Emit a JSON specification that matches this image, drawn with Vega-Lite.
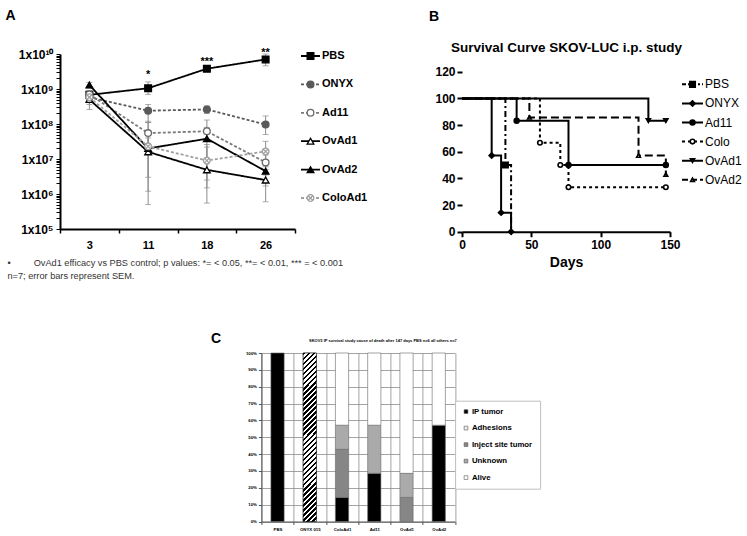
{
  "$schema": "https://vega.github.io/schema/vega-lite/v6.json",
  "background": "white",
  "padding": {"left": 5, "top": 8, "right": 2, "bottom": 1},
  "config": {"view": {"stroke": null}, "font": "Liberation Sans"},
  "datasets": {
    "tumor": [
      {"day": 3, "series": "PBS", "v": 6.8e8, "lo": 5.5e8, "hi": 8.5e8},
      {"day": 11, "series": "PBS", "v": 1.05e9, "lo": 7e8, "hi": 1.6e9},
      {"day": 18, "series": "PBS", "v": 3.8e9, "lo": 3.2e9, "hi": 4.5e9},
      {"day": 26, "series": "PBS", "v": 7.0e9, "lo": 4.6e9, "hi": 1.0e10},
      {"day": 3, "series": "ONYX", "v": 5.8e8, "lo": 4.2e8, "hi": 8e8},
      {"day": 11, "series": "ONYX", "v": 2.4e8, "lo": 1.1e8, "hi": 3.6e8},
      {"day": 18, "series": "ONYX", "v": 2.6e8, "lo": 2.0e8, "hi": 3.3e8},
      {"day": 26, "series": "ONYX", "v": 9.6e7, "lo": 5e7, "hi": 1.7e8},
      {"day": 3, "series": "Ad11", "v": 7.0e8, "lo": 5.5e8, "hi": 9e8},
      {"day": 11, "series": "Ad11", "v": 5.5e7, "lo": 2.7e7, "hi": 1.2e8},
      {"day": 18, "series": "Ad11", "v": 6.2e7, "lo": 3.2e7, "hi": 1.3e8},
      {"day": 26, "series": "Ad11", "v": 8.0e6, "lo": 3.5e6, "hi": 1.6e7},
      {"day": 3, "series": "OvAd1", "v": 5.0e8, "lo": 3.6e8, "hi": 6.8e8},
      {"day": 11, "series": "OvAd1", "v": 1.6e7, "lo": 5e5, "hi": 4e7},
      {"day": 18, "series": "OvAd1", "v": 4.9e6, "lo": 5.5e5, "hi": 2.6e7},
      {"day": 26, "series": "OvAd1", "v": 2.5e6, "lo": 6e5, "hi": 6e6},
      {"day": 3, "series": "OvAd2", "v": 1.3e9, "lo": 1.05e9, "hi": 1.55e9},
      {"day": 11, "series": "OvAd2", "v": 2.0e7, "lo": 1.2e6, "hi": 6e7},
      {"day": 18, "series": "OvAd2", "v": 3.8e7, "lo": 1.5e6, "hi": 8e7},
      {"day": 26, "series": "OvAd2", "v": 4.5e6, "lo": 1.7e6, "hi": 1.3e7},
      {"day": 3, "series": "ColoAd1", "v": 5.8e8, "lo": 2.6e8, "hi": 8e8},
      {"day": 11, "series": "ColoAd1", "v": 2.3e7, "lo": 3e6, "hi": 1.1e8},
      {"day": 18, "series": "ColoAd1", "v": 9e6, "lo": 2.5e6, "hi": 2.2e7},
      {"day": 26, "series": "ColoAd1", "v": 1.65e7, "lo": 5e6, "hi": 3.2e7}
    ],
    "stars": [
      {"day": 11, "y": 2.5e9, "label": "*"},
      {"day": 18, "y": 5.8e9, "label": "***"},
      {"day": 26, "y": 1.08e10, "label": "**"}
    ],
    "seriesA": [
      {"series": "PBS"}, {"series": "ONYX"}, {"series": "Ad11"},
      {"series": "OvAd1"}, {"series": "OvAd2"}, {"series": "ColoAd1"}
    ],
    "surv": [
      {"series": "PBS", "day": 0, "pct": 100}, {"series": "PBS", "day": 31.3, "pct": 50}, {"series": "PBS", "day": 35.4, "pct": 0},
      {"series": "ONYX", "day": 0, "pct": 100}, {"series": "ONYX", "day": 21.4, "pct": 57.1}, {"series": "ONYX", "day": 28.2, "pct": 14.3}, {"series": "ONYX", "day": 35.4, "pct": 0},
      {"series": "Ad11", "day": 0, "pct": 100}, {"series": "Ad11", "day": 39.4, "pct": 83.3}, {"series": "Ad11", "day": 76.8, "pct": 50}, {"series": "Ad11", "day": 147, "pct": 50},
      {"series": "Colo", "day": 0, "pct": 100}, {"series": "Colo", "day": 56.2, "pct": 66.7}, {"series": "Colo", "day": 70.9, "pct": 50}, {"series": "Colo", "day": 76.8, "pct": 33.3}, {"series": "Colo", "day": 147, "pct": 33.3},
      {"series": "OvAd1", "day": 0, "pct": 100}, {"series": "OvAd1", "day": 134.4, "pct": 83.3}, {"series": "OvAd1", "day": 147, "pct": 83.3},
      {"series": "OvAd2", "day": 0, "pct": 100}, {"series": "OvAd2", "day": 48.6, "pct": 85.7}, {"series": "OvAd2", "day": 127.3, "pct": 57.1}, {"series": "OvAd2", "day": 147, "pct": 42.9}
    ],
    "survpts": [
      {"series": "PBS", "day": 31.3, "pct": 50},
      {"series": "ONYX", "day": 21.4, "pct": 57.1}, {"series": "ONYX", "day": 28.2, "pct": 14.3}, {"series": "ONYX", "day": 35.4, "pct": 0},
      {"series": "Ad11", "day": 39.4, "pct": 83.3}, {"series": "Ad11", "day": 76.8, "pct": 50}, {"series": "Ad11", "day": 147, "pct": 50},
      {"series": "Colo", "day": 56.2, "pct": 66.7}, {"series": "Colo", "day": 70.9, "pct": 50}, {"series": "Colo", "day": 76.8, "pct": 33.3}, {"series": "Colo", "day": 147, "pct": 33.3},
      {"series": "OvAd1", "day": 134.4, "pct": 83.3}, {"series": "OvAd1", "day": 147, "pct": 83.3},
      {"series": "OvAd2", "day": 48.6, "pct": 85.7}, {"series": "OvAd2", "day": 127.3, "pct": 57.1}, {"series": "OvAd2", "day": 147, "pct": 42.9}
    ],
    "seriesB": [
      {"series": "PBS"}, {"series": "ONYX"}, {"series": "Ad11"},
      {"series": "Colo"}, {"series": "OvAd1"}, {"series": "OvAd2"}
    ],
    "cod": [
      {"group": "PBS", "cause": "IP tumor", "k": 1, "pct": 1.0},
      {"group": "ONYX 015", "cause": "Adhesions", "k": 2, "pct": 1.0},
      {"group": "ColoAd1", "cause": "IP tumor", "k": 1, "pct": 0.142857},
      {"group": "ColoAd1", "cause": "Inject site tumor", "k": 3, "pct": 0.285714},
      {"group": "ColoAd1", "cause": "Unknown", "k": 4, "pct": 0.142857},
      {"group": "ColoAd1", "cause": "Alive", "k": 5, "pct": 0.428571},
      {"group": "Ad11", "cause": "IP tumor", "k": 1, "pct": 0.285714},
      {"group": "Ad11", "cause": "Unknown", "k": 4, "pct": 0.285714},
      {"group": "Ad11", "cause": "Alive", "k": 5, "pct": 0.428571},
      {"group": "OvAd1", "cause": "Inject site tumor", "k": 3, "pct": 0.142857},
      {"group": "OvAd1", "cause": "Unknown", "k": 4, "pct": 0.142857},
      {"group": "OvAd1", "cause": "Alive", "k": 5, "pct": 0.714285},
      {"group": "OvAd2", "cause": "IP tumor", "k": 1, "pct": 0.571428},
      {"group": "OvAd2", "cause": "Alive", "k": 5, "pct": 0.428571}
    ]
  },
  "center": true,
  "spacing": 50,
  "resolve": {"scale": {"x": "independent", "y": "independent", "color": "independent", "fill": "independent", "stroke": "independent", "shape": "independent", "strokeDash": "independent", "size": "independent"}},
  "vconcat": [
    {
      "spacing": 60,
      "resolve": {"scale": {"x": "independent", "y": "independent", "color": "independent", "fill": "independent", "stroke": "independent", "shape": "independent", "strokeDash": "independent", "size": "independent"}},
      "hconcat": [
        {
          "bounds": "flush",
          "spacing": 6,
          "resolve": {"scale": {"x": "independent", "y": "independent", "color": "independent", "fill": "independent", "stroke": "independent", "shape": "independent", "strokeDash": "independent", "size": "independent"}},
          "hconcat": [
            {
              "width": 235,
              "height": 175,
              "encoding": {
                "x": {
                  "field": "day", "type": "ordinal", "bandPosition": 0.5,
                  "scale": {"type": "band", "paddingInner": 0, "paddingOuter": 0},
                  "title": ["\u2022\u00a0\u00a0\u00a0\u00a0\u00a0\u00a0\u00a0\u00a0\u00a0OvAd1 efficacy vs PBS control; p values: *= < 0.05, **= < 0.01, *** = < 0.001", "n=7; error bars represent SEM."],
                  "axis": {
                    "tickBand": "extent", "grid": false,
                    "domainColor": "#000", "domainWidth": 2,
                    "tickColor": "#000", "tickWidth": 1.5, "tickSize": 4,
                    "labelAngle": 0, "labelFontSize": 11, "labelFontWeight": "bold", "labelColor": "#000", "labelPadding": 6,
                    "titleX": -53, "titleY": 29, "titleAlign": "left", "titleBaseline": "top",
                    "titleFontSize": 9.2, "titleFontWeight": "normal", "titleColor": "#333", "titleLineHeight": 13.5
                  }
                }
              },
              "layer": [
                {
                  "data": {"name": "tumor"},
                  "mark": {"type": "rule", "color": "#8c8c8c", "strokeWidth": 1},
                  "encoding": {
                    "y": {
                      "field": "lo", "type": "quantitative", "title": "A",
                      "scale": {"type": "log", "domain": [1e5, 1e10], "nice": false},
                      "axis": {
                        "values": [1e5, 2e5, 3e5, 4e5, 5e5, 6e5, 7e5, 8e5, 9e5, 1e6, 2e6, 3e6, 4e6, 5e6, 6e6, 7e6, 8e6, 9e6, 1e7, 2e7, 3e7, 4e7, 5e7, 6e7, 7e7, 8e7, 9e7, 1e8, 2e8, 3e8, 4e8, 5e8, 6e8, 7e8, 8e8, 9e8, 1e9, 2e9, 3e9, 4e9, 5e9, 6e9, 7e9, 8e9, 9e9, 1e10],
                        "labelExpr": "abs(log(datum.value)/LN10 - round(log(datum.value)/LN10)) < 0.001 ? '1x10' + ['','','','','','\u2075','\u2076','\u2077','\u2078','\u2079','\u00b9\u2070'][round(log(datum.value)/LN10)] : ''",
                        "labelOverlap": false, "grid": false,
                        "domainColor": "#000", "domainWidth": 2,
                        "tickColor": "#000", "tickWidth": 1, "tickSize": 4,
                        "labelFontSize": 12, "labelFontWeight": "bold", "labelColor": "#000", "labelPadding": 3,
                        "titleAngle": 0, "titleX": -55, "titleY": -46, "titleAlign": "left", "titleBaseline": "top",
                        "titleFontSize": 14, "titleFontWeight": "bold", "titleColor": "#000"
                      }
                    },
                    "y2": {"field": "hi"}
                  }
                },
                {
                  "data": {"name": "tumor"},
                  "mark": {"type": "tick", "color": "#8c8c8c", "thickness": 1, "size": 6},
                  "encoding": {"y": {"field": "lo", "type": "quantitative", "title": "A"}}
                },
                {
                  "data": {"name": "tumor"},
                  "mark": {"type": "tick", "color": "#8c8c8c", "thickness": 1, "size": 6},
                  "encoding": {"y": {"field": "hi", "type": "quantitative", "title": "A"}}
                },
                {
                  "data": {"name": "tumor"},
                  "mark": {"type": "line", "strokeWidth": 1.8},
                  "encoding": {
                    "y": {"field": "v", "type": "quantitative", "title": "A"},
                    "color": {"field": "series", "type": "nominal", "legend": null,
                      "scale": {"domain": ["PBS", "ONYX", "Ad11", "OvAd1", "OvAd2", "ColoAd1"], "range": ["#000000", "#5a5a5a", "#7a7a7a", "#000000", "#000000", "#a0a0a0"]}},
                    "strokeDash": {"field": "series", "type": "nominal", "legend": null,
                      "scale": {"domain": ["PBS", "ONYX", "Ad11", "OvAd1", "OvAd2", "ColoAd1"], "range": [[1, 0], [3, 2], [3, 2], [1, 0], [1, 0], [3, 2]]}}
                  }
                },
                {
                  "data": {"name": "tumor"},
                  "mark": {"type": "point", "size": 45, "strokeWidth": 1.3, "opacity": 1, "fillOpacity": 1},
                  "encoding": {
                    "y": {"field": "v", "type": "quantitative", "title": "A"},
                    "shape": {"field": "series", "type": "nominal", "legend": null,
                      "scale": {"domain": ["PBS", "ONYX", "Ad11", "OvAd1", "OvAd2", "ColoAd1"], "range": ["square", "circle", "circle", "triangle-up", "triangle-up", "M-0.6,-0.6L0.6,0.6M-0.6,0.6L0.6,-0.6M-1,0A1,1 0 1,0 1,0A1,1 0 1,0 -1,0Z"]}},
                    "fill": {"field": "series", "type": "nominal", "legend": null,
                      "scale": {"domain": ["PBS", "ONYX", "Ad11", "OvAd1", "OvAd2", "ColoAd1"], "range": ["#000000", "#5a5a5a", "#ffffff", "#ffffff", "#000000", "#ffffff"]}},
                    "stroke": {"field": "series", "type": "nominal", "legend": null,
                      "scale": {"domain": ["PBS", "ONYX", "Ad11", "OvAd1", "OvAd2", "ColoAd1"], "range": ["#000000", "#5a5a5a", "#6a6a6a", "#000000", "#000000", "#a0a0a0"]}}
                  }
                },
                {
                  "data": {"name": "stars"},
                  "mark": {"type": "text", "fontSize": 11, "fontWeight": "bold", "baseline": "middle", "color": "#000"},
                  "encoding": {
                    "y": {"field": "y", "type": "quantitative", "title": "A"},
                    "text": {"field": "label"}
                  }
                }
              ]
            },
            {
              "width": 62,
              "height": 146,
              "data": {"name": "seriesA"},
              "encoding": {
                "y": {"field": "series", "type": "nominal", "axis": null,
                  "scale": {"type": "point", "padding": 0.07, "domain": ["PBS", "ONYX", "Ad11", "OvAd1", "OvAd2", "ColoAd1"]}}
              },
              "layer": [
                {
                  "mark": {"type": "rule", "strokeWidth": 1.8},
                  "encoding": {
                    "x": {"datum": 0, "type": "quantitative", "scale": {"domain": [0, 62], "nice": false}, "axis": null},
                    "x2": {"datum": 19},
                    "color": {"field": "series", "type": "nominal", "legend": null,
                      "scale": {"domain": ["PBS", "ONYX", "Ad11", "OvAd1", "OvAd2", "ColoAd1"], "range": ["#000000", "#5a5a5a", "#7a7a7a", "#000000", "#000000", "#a0a0a0"]}},
                    "strokeDash": {"field": "series", "type": "nominal", "legend": null,
                      "scale": {"domain": ["PBS", "ONYX", "Ad11", "OvAd1", "OvAd2", "ColoAd1"], "range": [[1, 0], [3, 2], [3, 2], [1, 0], [1, 0], [3, 2]]}}
                  }
                },
                {
                  "mark": {"type": "point", "size": 45, "strokeWidth": 1.3, "opacity": 1, "fillOpacity": 1},
                  "encoding": {
                    "x": {"datum": 9.5, "type": "quantitative"},
                    "shape": {"field": "series", "type": "nominal", "legend": null,
                      "scale": {"domain": ["PBS", "ONYX", "Ad11", "OvAd1", "OvAd2", "ColoAd1"], "range": ["square", "circle", "circle", "triangle-up", "triangle-up", "M-0.6,-0.6L0.6,0.6M-0.6,0.6L0.6,-0.6M-1,0A1,1 0 1,0 1,0A1,1 0 1,0 -1,0Z"]}},
                    "fill": {"field": "series", "type": "nominal", "legend": null,
                      "scale": {"domain": ["PBS", "ONYX", "Ad11", "OvAd1", "OvAd2", "ColoAd1"], "range": ["#000000", "#5a5a5a", "#ffffff", "#ffffff", "#000000", "#ffffff"]}},
                    "stroke": {"field": "series", "type": "nominal", "legend": null,
                      "scale": {"domain": ["PBS", "ONYX", "Ad11", "OvAd1", "OvAd2", "ColoAd1"], "range": ["#000000", "#5a5a5a", "#6a6a6a", "#000000", "#000000", "#a0a0a0"]}}
                  }
                },
                {
                  "mark": {"type": "text", "align": "left", "baseline": "middle", "fontSize": 11, "fontWeight": "bold", "color": "#000"},
                  "encoding": {
                    "x": {"datum": 21, "type": "quantitative"},
                    "text": {"field": "series"}
                  }
                }
              ]
            }
          ]
        },
        {
          "bounds": "flush",
          "spacing": 12,
          "resolve": {"scale": {"x": "independent", "y": "independent", "color": "independent", "fill": "independent", "stroke": "independent", "shape": "independent", "strokeDash": "independent", "size": "independent"}},
          "hconcat": [
            {
              "width": 208,
              "height": 177.7,
              "title": {"text": "B", "anchor": "start", "frame": "bounds", "fontSize": 14, "fontWeight": "bold", "offset": 16, "dx": -6, "color": "#000"},
              "encoding": {
                "x": {"field": "day", "type": "quantitative", "title": "Days",
                  "scale": {"domain": [0, 150], "nice": false},
                  "axis": {"values": [0, 50, 100, 150], "grid": false,
                    "domainColor": "#000", "domainWidth": 2, "tickColor": "#000", "tickWidth": 2, "tickSize": 5,
                    "labelFontSize": 12, "labelFontWeight": "bold", "labelColor": "#000", "labelPadding": 3, "labelFlush": false,
                    "titleFontSize": 14, "titleFontWeight": "bold", "titleColor": "#000", "titlePadding": 5}},
                "y": {"field": "pct", "type": "quantitative", "title": "Survival Curve SKOV-LUC i.p. study",
                  "scale": {"domain": [0, 133.3], "nice": false},
                  "axis": {"values": [0, 20, 40, 60, 80, 100, 120], "grid": false, "domain": false,
                    "tickColor": "#000", "tickWidth": 2, "tickSize": 5,
                    "labelFontSize": 12, "labelFontWeight": "bold", "labelColor": "#000", "labelPadding": 2,
                    "titleAngle": 0, "titleX": 104, "titleY": -7, "titleAlign": "center", "titleBaseline": "middle",
                    "titleFontSize": 13.5, "titleFontWeight": "bold", "titleColor": "#000"}}
              },
              "layer": [
                {
                  "data": {"values": [{}]},
                  "mark": {"type": "rule", "strokeWidth": 2, "color": "#000"},
                  "encoding": {
                    "x": {"datum": 0, "type": "quantitative"},
                    "y": {"datum": 0, "type": "quantitative"},
                    "y2": {"datum": 120}
                  }
                },
                {
                  "data": {"name": "surv"},
                  "mark": {"type": "line", "interpolate": "step-after", "strokeWidth": 2, "color": "#000"},
                  "encoding": {
                    "strokeDash": {"field": "series", "type": "nominal", "legend": null,
                      "scale": {"domain": ["PBS", "ONYX", "Ad11", "Colo", "OvAd1", "OvAd2"], "range": [[6, 3, 2, 3], [1, 0], [1, 0], [3, 3], [1, 0], [8, 4]]}}
                  }
                },
                {
                  "data": {"name": "survpts"},
                  "mark": {"type": "point", "strokeWidth": 1.6, "stroke": "#000", "opacity": 1, "fillOpacity": 1},
                  "encoding": {
                    "shape": {"field": "series", "type": "nominal", "legend": null,
                      "scale": {"domain": ["PBS", "ONYX", "Ad11", "Colo", "OvAd1", "OvAd2"], "range": ["square", "diamond", "circle", "circle", "triangle-down", "triangle-up"]}},
                    "fill": {"field": "series", "type": "nominal", "legend": null,
                      "scale": {"domain": ["PBS", "ONYX", "Ad11", "Colo", "OvAd1", "OvAd2"], "range": ["#000000", "#000000", "#000000", "#ffffff", "#000000", "#ffffff"]}},
                    "size": {"field": "series", "type": "nominal", "legend": null,
                      "scale": {"domain": ["PBS", "ONYX", "Ad11", "Colo", "OvAd1", "OvAd2"], "range": [30, 14, 35, 45, 30, 35]}}
                  }
                }
              ]
            },
            {
              "width": 60,
              "height": 137,
              "data": {"name": "seriesB"},
              "encoding": {
                "y": {"field": "series", "type": "nominal", "axis": null,
                  "scale": {"type": "point", "padding": 0.59, "domain": [" ", "PBS", "ONYX", "Ad11", "Colo", "OvAd1", "OvAd2"]}}
              },
              "layer": [
                {
                  "mark": {"type": "rule", "strokeWidth": 2, "color": "#000"},
                  "encoding": {
                    "x": {"datum": 0, "type": "quantitative", "scale": {"domain": [0, 60], "nice": false}, "axis": null},
                    "x2": {"datum": 21},
                    "strokeDash": {"field": "series", "type": "nominal", "legend": null,
                      "scale": {"domain": ["PBS", "ONYX", "Ad11", "Colo", "OvAd1", "OvAd2"], "range": [[4, 2, 2, 2], [1, 0], [1, 0], [3, 3], [1, 0], [6, 3]]}}
                  }
                },
                {
                  "mark": {"type": "point", "strokeWidth": 1.6, "stroke": "#000", "opacity": 1, "fillOpacity": 1},
                  "encoding": {
                    "x": {"datum": 10.5, "type": "quantitative"},
                    "shape": {"field": "series", "type": "nominal", "legend": null,
                      "scale": {"domain": ["PBS", "ONYX", "Ad11", "Colo", "OvAd1", "OvAd2"], "range": ["square", "diamond", "circle", "circle", "triangle-down", "triangle-up"]}},
                    "fill": {"field": "series", "type": "nominal", "legend": null,
                      "scale": {"domain": ["PBS", "ONYX", "Ad11", "Colo", "OvAd1", "OvAd2"], "range": ["#000000", "#000000", "#000000", "#ffffff", "#000000", "#ffffff"]}},
                    "size": {"field": "series", "type": "nominal", "legend": null,
                      "scale": {"domain": ["PBS", "ONYX", "Ad11", "Colo", "OvAd1", "OvAd2"], "range": [30, 14, 35, 45, 30, 35]}}
                  }
                },
                {
                  "mark": {"type": "text", "align": "left", "baseline": "middle", "fontSize": 12, "color": "#000"},
                  "encoding": {
                    "x": {"datum": 23, "type": "quantitative"},
                    "text": {"field": "series"}
                  }
                }
              ]
            }
          ]
        }
      ]
    },
    {
      "width": 193.5,
      "height": 168.5,
      "encoding": {
        "x": {"field": "group", "type": "nominal", "title": "C",
          "scale": {"type": "band", "paddingInner": 0, "paddingOuter": 0, "domain": ["PBS", "ONYX 015", "ColoAd1", "Ad11", "OvAd1", "OvAd2"]},
          "axis": {"tickBand": "extent", "grid": true, "gridColor": "#8c8c8c", "gridWidth": 0.8,
            "domainColor": "#555", "domainWidth": 1, "tickColor": "#555", "tickSize": 3,
            "labelAngle": 0, "labelFontSize": 4.3, "labelFontWeight": "bold", "labelColor": "#000", "labelPadding": 3,
            "titleAngle": 0, "titleX": -51, "titleY": -190, "titleAlign": "left", "titleBaseline": "top",
            "titleFontSize": 14, "titleFontWeight": "bold", "titleColor": "#000"}},
        "y": {"field": "pct", "type": "quantitative", "stack": "zero", "title": "SKOV3 IP survival study cause of death after 147 days PBS n=6 all others n=7",
          "scale": {"domain": [0, 1], "nice": false},
          "axis": {"values": [0, 0.1, 0.2, 0.3, 0.4, 0.5, 0.6, 0.7, 0.8, 0.9, 1], "format": ".0%", "grid": true, "gridColor": "#8c8c8c", "gridWidth": 0.8,
            "domainColor": "#555", "domainWidth": 1, "tickColor": "#555", "tickSize": 3,
            "labelFontSize": 4.3, "labelFontWeight": "bold", "labelColor": "#000", "labelPadding": 2,
            "titleAngle": 0, "titleX": 121, "titleY": -13, "titleAlign": "center", "titleBaseline": "middle",
            "titleFontSize": 4, "titleFontWeight": "bold", "titleColor": "#000"}}
      },
      "layer": [
        {
          "data": {"name": "cod"},
          "mark": {"type": "bar", "width": {"band": 0.41}, "stroke": "#666", "strokeWidth": 0.6},
          "encoding": {
            "color": {"field": "cause", "type": "nominal",
              "scale": {"domain": ["IP tumor", "Adhesions", "Inject site tumor", "Unknown", "Alive"], "range": ["#000000", "#eeeeee", "#868686", "#aaaaaa", "#ffffff"]},
              "legend": {"orient": "none", "legendX": 193.7, "legendY": 47.7, "title": null,
                "symbolType": "square", "symbolSize": 14, "symbolStrokeColor": "#555", "symbolStrokeWidth": 0.6,
                "labelFontSize": 7.8, "labelFontWeight": "bold", "labelColor": "#000", "labelOffset": 2,
                "rowPadding": 7.5, "padding": 7, "strokeColor": "#bfbfbf", "fillColor": "#ffffff"}},
            "order": {"field": "k", "type": "quantitative"}
          }
        },
        {
          "data": {"name": "cod"},
          "transform": [{"filter": {"field": "group", "equal": "ONYX 015"}}],
          "mark": {"type": "bar", "width": {"band": 0.41}, "stroke": "#000", "strokeWidth": 0.6,
            "fill": {"gradient": "linear", "x1": 0, "y1": 0, "x2": 0.0848, "y2": 1.0724, "stops": [
              {"offset": 0, "color": "#000"}, {"offset": 0.01389, "color": "#000"}, {"offset": 0.01389, "color": "#fff"}, {"offset": 0.02778, "color": "#fff"},
              {"offset": 0.02778, "color": "#000"}, {"offset": 0.04167, "color": "#000"}, {"offset": 0.04167, "color": "#fff"}, {"offset": 0.05556, "color": "#fff"},
              {"offset": 0.05556, "color": "#000"}, {"offset": 0.06944, "color": "#000"}, {"offset": 0.06944, "color": "#fff"}, {"offset": 0.08333, "color": "#fff"},
              {"offset": 0.08333, "color": "#000"}, {"offset": 0.09722, "color": "#000"}, {"offset": 0.09722, "color": "#fff"}, {"offset": 0.11111, "color": "#fff"},
              {"offset": 0.11111, "color": "#000"}, {"offset": 0.125, "color": "#000"}, {"offset": 0.125, "color": "#fff"}, {"offset": 0.13889, "color": "#fff"},
              {"offset": 0.13889, "color": "#000"}, {"offset": 0.15278, "color": "#000"}, {"offset": 0.15278, "color": "#fff"}, {"offset": 0.16667, "color": "#fff"},
              {"offset": 0.16667, "color": "#000"}, {"offset": 0.18056, "color": "#000"}, {"offset": 0.18056, "color": "#fff"}, {"offset": 0.19444, "color": "#fff"},
              {"offset": 0.19444, "color": "#000"}, {"offset": 0.20833, "color": "#000"}, {"offset": 0.20833, "color": "#fff"}, {"offset": 0.22222, "color": "#fff"},
              {"offset": 0.22222, "color": "#000"}, {"offset": 0.23611, "color": "#000"}, {"offset": 0.23611, "color": "#fff"}, {"offset": 0.25, "color": "#fff"},
              {"offset": 0.25, "color": "#000"}, {"offset": 0.26389, "color": "#000"}, {"offset": 0.26389, "color": "#fff"}, {"offset": 0.27778, "color": "#fff"},
              {"offset": 0.27778, "color": "#000"}, {"offset": 0.29167, "color": "#000"}, {"offset": 0.29167, "color": "#fff"}, {"offset": 0.30556, "color": "#fff"},
              {"offset": 0.30556, "color": "#000"}, {"offset": 0.31944, "color": "#000"}, {"offset": 0.31944, "color": "#fff"}, {"offset": 0.33333, "color": "#fff"},
              {"offset": 0.33333, "color": "#000"}, {"offset": 0.34722, "color": "#000"}, {"offset": 0.34722, "color": "#fff"}, {"offset": 0.36111, "color": "#fff"},
              {"offset": 0.36111, "color": "#000"}, {"offset": 0.375, "color": "#000"}, {"offset": 0.375, "color": "#fff"}, {"offset": 0.38889, "color": "#fff"},
              {"offset": 0.38889, "color": "#000"}, {"offset": 0.40278, "color": "#000"}, {"offset": 0.40278, "color": "#fff"}, {"offset": 0.41667, "color": "#fff"},
              {"offset": 0.41667, "color": "#000"}, {"offset": 0.43056, "color": "#000"}, {"offset": 0.43056, "color": "#fff"}, {"offset": 0.44444, "color": "#fff"},
              {"offset": 0.44444, "color": "#000"}, {"offset": 0.45833, "color": "#000"}, {"offset": 0.45833, "color": "#fff"}, {"offset": 0.47222, "color": "#fff"},
              {"offset": 0.47222, "color": "#000"}, {"offset": 0.48611, "color": "#000"}, {"offset": 0.48611, "color": "#fff"}, {"offset": 0.5, "color": "#fff"},
              {"offset": 0.5, "color": "#000"}, {"offset": 0.51389, "color": "#000"}, {"offset": 0.51389, "color": "#fff"}, {"offset": 0.52778, "color": "#fff"},
              {"offset": 0.52778, "color": "#000"}, {"offset": 0.54167, "color": "#000"}, {"offset": 0.54167, "color": "#fff"}, {"offset": 0.55556, "color": "#fff"},
              {"offset": 0.55556, "color": "#000"}, {"offset": 0.56944, "color": "#000"}, {"offset": 0.56944, "color": "#fff"}, {"offset": 0.58333, "color": "#fff"},
              {"offset": 0.58333, "color": "#000"}, {"offset": 0.59722, "color": "#000"}, {"offset": 0.59722, "color": "#fff"}, {"offset": 0.61111, "color": "#fff"},
              {"offset": 0.61111, "color": "#000"}, {"offset": 0.625, "color": "#000"}, {"offset": 0.625, "color": "#fff"}, {"offset": 0.63889, "color": "#fff"},
              {"offset": 0.63889, "color": "#000"}, {"offset": 0.65278, "color": "#000"}, {"offset": 0.65278, "color": "#fff"}, {"offset": 0.66667, "color": "#fff"},
              {"offset": 0.66667, "color": "#000"}, {"offset": 0.68056, "color": "#000"}, {"offset": 0.68056, "color": "#fff"}, {"offset": 0.69444, "color": "#fff"},
              {"offset": 0.69444, "color": "#000"}, {"offset": 0.70833, "color": "#000"}, {"offset": 0.70833, "color": "#fff"}, {"offset": 0.72222, "color": "#fff"},
              {"offset": 0.72222, "color": "#000"}, {"offset": 0.73611, "color": "#000"}, {"offset": 0.73611, "color": "#fff"}, {"offset": 0.75, "color": "#fff"},
              {"offset": 0.75, "color": "#000"}, {"offset": 0.76389, "color": "#000"}, {"offset": 0.76389, "color": "#fff"}, {"offset": 0.77778, "color": "#fff"},
              {"offset": 0.77778, "color": "#000"}, {"offset": 0.79167, "color": "#000"}, {"offset": 0.79167, "color": "#fff"}, {"offset": 0.80556, "color": "#fff"},
              {"offset": 0.80556, "color": "#000"}, {"offset": 0.81944, "color": "#000"}, {"offset": 0.81944, "color": "#fff"}, {"offset": 0.83333, "color": "#fff"},
              {"offset": 0.83333, "color": "#000"}, {"offset": 0.84722, "color": "#000"}, {"offset": 0.84722, "color": "#fff"}, {"offset": 0.86111, "color": "#fff"},
              {"offset": 0.86111, "color": "#000"}, {"offset": 0.875, "color": "#000"}, {"offset": 0.875, "color": "#fff"}, {"offset": 0.88889, "color": "#fff"},
              {"offset": 0.88889, "color": "#000"}, {"offset": 0.90278, "color": "#000"}, {"offset": 0.90278, "color": "#fff"}, {"offset": 0.91667, "color": "#fff"},
              {"offset": 0.91667, "color": "#000"}, {"offset": 0.93056, "color": "#000"}, {"offset": 0.93056, "color": "#fff"}, {"offset": 0.94444, "color": "#fff"},
              {"offset": 0.94444, "color": "#000"}, {"offset": 0.95833, "color": "#000"}, {"offset": 0.95833, "color": "#fff"}, {"offset": 0.97222, "color": "#fff"},
              {"offset": 0.97222, "color": "#000"}, {"offset": 0.98611, "color": "#000"}, {"offset": 0.98611, "color": "#fff"}, {"offset": 1, "color": "#fff"}
            ]}},
          "encoding": {}
        }
      ]
    }
  ]
}
